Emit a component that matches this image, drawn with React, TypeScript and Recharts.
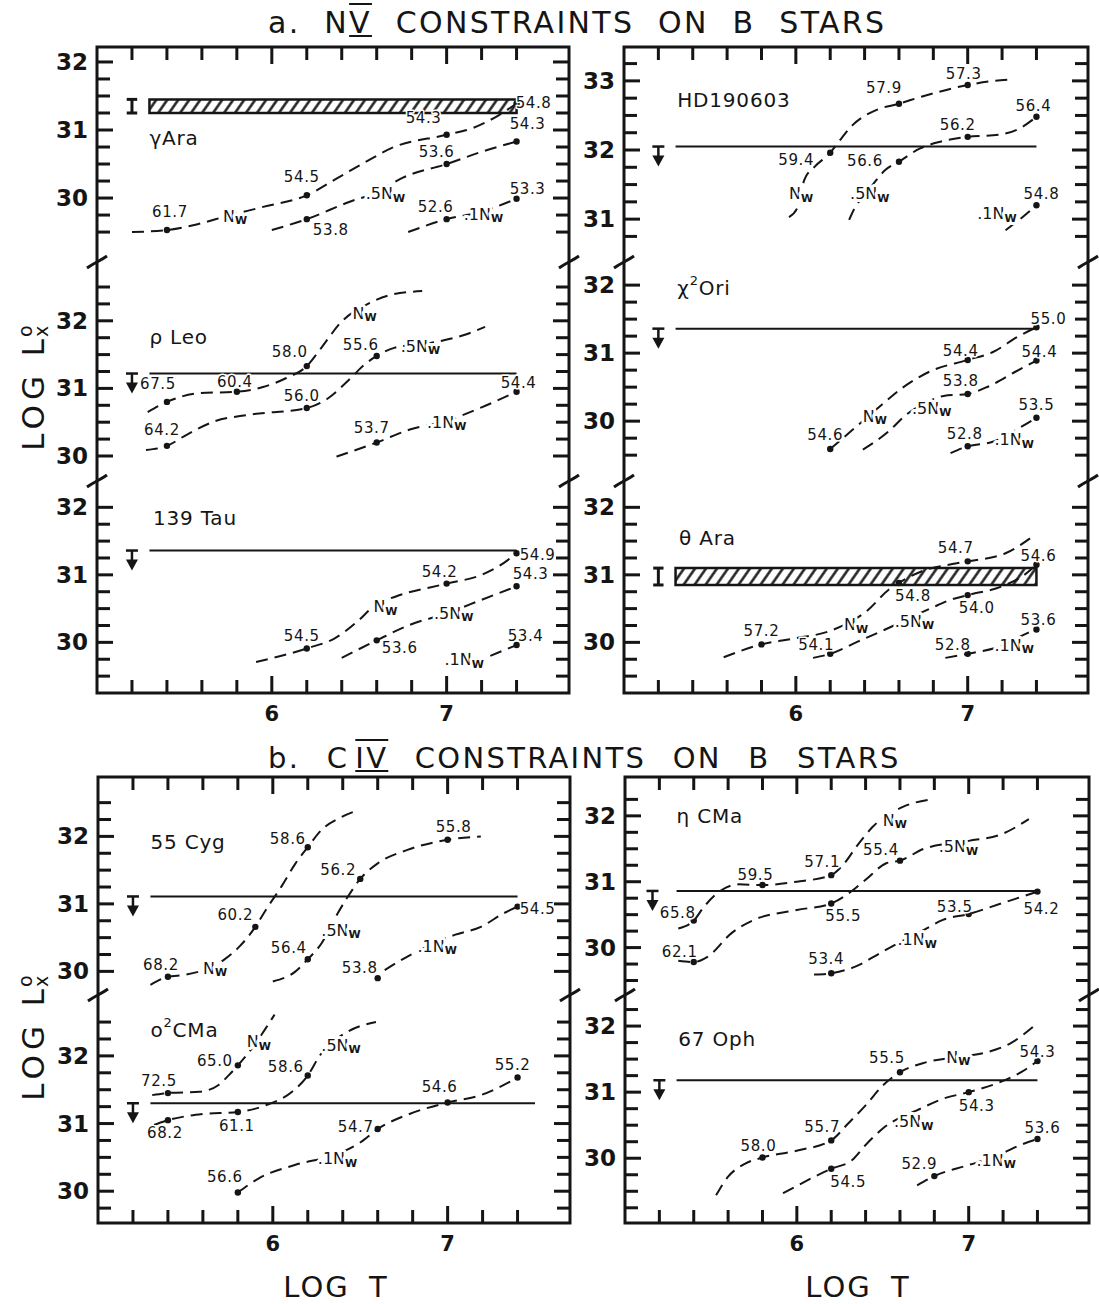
import {
  ComposedChart,
  Line,
  Scatter,
  XAxis,
  YAxis,
  ReferenceLine,
  ReferenceArea,
} from "recharts";

type Pt = [number, number];
type Mark = [number, number, string];

const INK = "#151515";
const FONT = "'DejaVu Sans', sans-serif";

const X_DOMAIN: [number, number] = [5, 7.7];
const X_TICKS = [5.2, 5.4, 5.6, 5.8, 6, 6.2, 6.4, 6.6, 6.8, 7, 7.2, 7.4];
const X_LABELS = [6, 7];
const Y_STEP = 0.25;

// ---- a. N V : gamma Ara
const gAraNw: Pt[] = [[5.2, 29.5], [5.4, 29.53], [5.55, 29.6], [5.75, 29.74], [5.95, 29.87], [6.2, 30.04], [6.38, 30.3], [6.55, 30.55], [6.69, 30.74], [7.0, 30.93], [7.15, 31.03], [7.3, 31.22], [7.4, 31.39]];
const gAraHalf: Pt[] = [[6.0, 29.53], [6.2, 29.69], [6.45, 29.95], [6.6, 30.08], [6.75, 30.3], [7.0, 30.5], [7.2, 30.68], [7.4, 30.83]];
const gAraTenth: Pt[] = [[6.78, 29.5], [7.0, 29.69], [7.2, 29.8], [7.4, 29.99]];
const gAraDots: Mark[] = [[5.4, 29.53, "61.7"], [6.2, 30.04, "54.5"], [6.2, 29.69, "53.8"], [7.0, 30.93, "54.3"], [7.0, 30.5, "53.6"], [7.0, 29.69, "52.6"], [7.4, 31.39, "54.8"], [7.4, 30.83, "54.3"], [7.4, 29.99, "53.3"]];
const gAraOff: Pt[] = [[3, -18], [-5, -18], [24, 11], [-23, -17], [-10, -12], [-11, -12], [17, 0], [11, -18], [11, -10]];
const gAraTags: Mark[] = [[5.79, 29.73, "Nw"], [6.65, 30.06, ".5Nw"], [7.21, 29.76, ".1Nw"]];
const gAraStar: Mark = [5.3, 30.88, "γAra"];
const gAraBand: Pt = [31.25, 31.45];

// ---- rho Leo
const rhoNw: Pt[] = [[5.29, 30.65], [5.4, 30.8], [5.59, 30.93], [5.8, 30.95], [5.95, 31.02], [6.08, 31.15], [6.2, 31.33], [6.28, 31.59], [6.4, 31.99], [6.55, 32.25], [6.69, 32.39], [6.86, 32.44]];
const rhoHalf: Pt[] = [[5.28, 30.09], [5.4, 30.15], [5.51, 30.31], [5.67, 30.51], [5.87, 30.61], [6.2, 30.71], [6.32, 30.85], [6.45, 31.15], [6.53, 31.35], [6.6, 31.48], [6.7, 31.6], [6.9, 31.67], [7.1, 31.79], [7.22, 31.91]];
const rhoTenth: Pt[] = [[6.37, 29.99], [6.6, 30.2], [6.8, 30.4], [7.0, 30.52], [7.2, 30.72], [7.4, 30.95]];
const rhoDots: Mark[] = [[5.4, 30.8, "67.5"], [5.8, 30.95, "60.4"], [6.2, 31.33, "58.0"], [5.4, 30.15, "64.2"], [6.2, 30.71, "56.0"], [6.6, 31.48, "55.6"], [6.6, 30.2, "53.7"], [7.4, 30.95, "54.4"]];
const rhoOff: Pt[] = [[-9, -18], [-2, -10], [-17, -14], [-5, -16], [-5, -12], [-16, -11], [-5, -14], [2, -9]];
const rhoTags: Mark[] = [[6.53, 32.11, "Nw"], [6.85, 31.62, ".5Nw"], [7.0, 30.5, ".1Nw"]];
const rhoStar: Mark = [5.3, 31.76, "ρ Leo"];
const rhoLimit = 31.22;

// ---- 139 Tau
const tauNw: Pt[] = [[5.91, 29.71], [6.2, 29.91], [6.36, 30.06], [6.49, 30.31], [6.59, 30.55], [6.71, 30.68], [7.0, 30.87], [7.2, 31.0], [7.3, 31.13], [7.4, 31.32]];
const tauHalf: Pt[] = [[6.4, 29.77], [6.6, 30.03], [6.79, 30.26], [7.0, 30.43], [7.2, 30.63], [7.4, 30.83]];
const tauTenth: Pt[] = [[7.25, 29.8], [7.4, 29.96]];
const tauDots: Mark[] = [[6.2, 29.91, "54.5"], [7.0, 30.87, "54.2"], [7.4, 31.32, "54.9"], [6.6, 30.03, "53.6"], [7.4, 30.83, "54.3"], [7.4, 29.96, "53.4"]];
const tauOff: Pt[] = [[-5, -12], [-7, -12], [21, 2], [23, 8], [14, -12], [9, -9]];
const tauTags: Mark[] = [[6.65, 30.53, "Nw"], [7.04, 30.43, ".5Nw"], [7.1, 29.74, ".1Nw"]];
const tauStar: Mark = [5.32, 31.84, "139 Tau"];
const tauLimit = 31.36;

// ---- HD 190603
const hdNw: Pt[] = [[5.96, 31.03], [6.01, 31.17], [6.03, 31.4], [6.05, 31.57], [6.11, 31.76], [6.2, 31.96], [6.25, 32.12], [6.33, 32.36], [6.47, 32.58], [6.6, 32.67], [6.73, 32.77], [7.0, 32.94], [7.12, 32.99], [7.25, 33.02]];
const hdHalf: Pt[] = [[6.31, 30.99], [6.34, 31.15], [6.41, 31.37], [6.47, 31.57], [6.52, 31.71], [6.6, 31.83], [6.72, 32.02], [6.84, 32.12], [7.0, 32.19], [7.18, 32.22], [7.3, 32.31], [7.4, 32.48]];
const hdTenth: Pt[] = [[7.22, 30.84], [7.32, 31.03], [7.4, 31.2]];
const hdDots: Mark[] = [[6.2, 31.96, "59.4"], [6.6, 32.67, "57.9"], [7.0, 32.94, "57.3"], [6.6, 31.83, "56.6"], [7.0, 32.19, "56.2"], [7.4, 32.48, "56.4"], [7.4, 31.2, "54.8"]];
const hdOff: Pt[] = [[-34, 7], [-15, -16], [-4, -11], [-34, -1], [-10, -12], [-3, -11], [5, -11]];
const hdTags: Mark[] = [[6.03, 31.37, "Nw"], [6.43, 31.37, ".5Nw"], [7.17, 31.08, ".1Nw"]];
const hdStar: Mark = [5.31, 32.72, "HD190603"];
const hdLimit = 32.05;

// ---- chi2 Ori
const oriNw: Pt[] = [[6.2, 29.59], [6.32, 29.85], [6.5, 30.24], [6.62, 30.49], [6.78, 30.73], [7.0, 30.9], [7.15, 31.02], [7.29, 31.24], [7.4, 31.38]];
const oriHalf: Pt[] = [[6.39, 29.58], [6.54, 29.85], [6.64, 30.09], [6.78, 30.3], [6.86, 30.37], [7.0, 30.4], [7.12, 30.51], [7.28, 30.73], [7.4, 30.89]];
const oriTenth: Pt[] = [[6.9, 29.53], [7.0, 29.63], [7.15, 29.7], [7.3, 29.9], [7.4, 30.05]];
const oriDots: Mark[] = [[6.2, 29.59, "54.6"], [7.0, 30.9, "54.4"], [7.4, 31.38, "55.0"], [7.0, 30.4, "53.8"], [7.4, 30.89, "54.4"], [7.0, 29.63, "52.8"], [7.4, 30.05, "53.5"]];
const oriOff: Pt[] = [[-5, -14], [-7, -9], [12, -8], [-7, -13], [3, -9], [-3, -12], [0, -13]];
const oriTags: Mark[] = [[6.46, 30.07, "Nw"], [6.79, 30.19, ".5Nw"], [7.27, 29.73, ".1Nw"]];
const oriStar: Mark = [5.31, 31.96, "χ^2Ori"];
const oriLimit = 31.36;

// ---- theta Ara
const tAraNw: Pt[] = [[5.58, 29.78], [5.8, 29.97], [6.0, 30.06], [6.2, 30.17], [6.42, 30.48], [6.54, 30.78], [6.6, 30.88], [6.73, 31.05], [6.91, 31.16], [7.0, 31.2], [7.22, 31.32], [7.39, 31.59]];
const tAraHalf: Pt[] = [[6.1, 29.77], [6.2, 29.83], [6.36, 30.01], [6.52, 30.19], [6.79, 30.51], [6.9, 30.63], [7.0, 30.7], [7.2, 30.83], [7.33, 31.0], [7.4, 31.15]];
const tAraTenth: Pt[] = [[6.87, 29.77], [7.0, 29.83], [7.2, 29.95], [7.35, 30.14], [7.4, 30.19]];
const tAraDots: Mark[] = [[5.8, 29.97, "57.2"], [6.6, 30.88, "54.8"], [7.0, 31.2, "54.7"], [6.2, 29.83, "54.1"], [7.0, 30.7, "54.0"], [7.4, 31.15, "54.6"], [7.0, 29.83, "52.8"], [7.4, 30.19, "53.6"]];
const tAraOff: Pt[] = [[0, -13], [14, 13], [-12, -13], [-14, -9], [9, 13], [2, -9], [-15, -9], [2, -10]];
const tAraTags: Mark[] = [[6.35, 30.26, "Nw"], [6.69, 30.31, ".5Nw"], [7.27, 29.96, ".1Nw"]];
const tAraStar: Mark = [5.32, 31.55, "θ Ara"];
const tAraBand: Pt = [30.85, 31.1];

// ---- b. C IV : 55 Cyg
const cygNw: Pt[] = [[5.3, 29.8], [5.4, 29.92], [5.5, 29.95], [5.72, 30.17], [5.81, 30.37], [5.9, 30.66], [5.96, 30.91], [6.05, 31.26], [6.13, 31.6], [6.2, 31.84], [6.28, 32.1], [6.38, 32.27], [6.49, 32.39]];
const cygHalf: Pt[] = [[6.0, 29.85], [6.13, 30.0], [6.2, 30.18], [6.28, 30.42], [6.36, 30.81], [6.43, 31.11], [6.5, 31.37], [6.6, 31.6], [6.77, 31.8], [7.0, 31.95], [7.19, 32.0]];
const cygTenth: Pt[] = [[6.64, 30.02], [6.77, 30.22], [7.04, 30.54], [7.19, 30.66], [7.32, 30.86], [7.4, 30.96]];
const cygDots: Mark[] = [[5.4, 29.92, "68.2"], [5.9, 30.66, "60.2"], [6.2, 31.84, "58.6"], [6.2, 30.18, "56.4"], [6.5, 31.37, "56.2"], [7.0, 31.95, "55.8"], [6.6, 29.9, "53.8"], [7.4, 30.96, "54.5"]];
const cygOff: Pt[] = [[-7, -12], [-20, -12], [-20, -8], [-19, -11], [-22, -9], [6, -13], [-18, -10], [20, 2]];
const cygTags: Mark[] = [[5.67, 30.05, "Nw"], [6.39, 30.61, ".5Nw"], [6.94, 30.37, ".1Nw"]];
const cygStar: Mark = [5.3, 31.92, "55 Cyg"];
const cygLimit = 31.11;

// ---- o2 CMa
const cmaNw: Pt[] = [[5.31, 31.42], [5.4, 31.45], [5.58, 31.47], [5.69, 31.57], [5.75, 31.72], [5.8, 31.86], [5.88, 32.11], [5.96, 32.41], [6.01, 32.61]];
const cmaHalf: Pt[] = [[5.32, 30.98], [5.4, 31.05], [5.6, 31.14], [5.8, 31.17], [5.96, 31.27], [6.11, 31.47], [6.2, 31.71], [6.27, 32.01], [6.43, 32.36], [6.59, 32.5]];
const cmaTenth: Pt[] = [[5.8, 29.98], [5.92, 30.19], [6.13, 30.39], [6.37, 30.55], [6.5, 30.72], [6.6, 30.92], [6.77, 31.13], [7.0, 31.31], [7.19, 31.42], [7.4, 31.68]];
const cmaDots: Mark[] = [[5.4, 31.45, "72.5"], [5.8, 31.86, "65.0"], [5.4, 31.05, "68.2"], [5.8, 31.17, "61.1"], [6.2, 31.71, "58.6"], [5.8, 29.98, "56.6"], [6.6, 30.92, "54.7"], [7.0, 31.31, "54.6"], [7.4, 31.68, "55.2"]];
const cmaOff: Pt[] = [[-9, -12], [-23, -4], [-3, 13], [-1, 14], [-22, -9], [-13, -16], [-22, -2], [-8, -16], [-5, -13]];
const cmaTags: Mark[] = [[5.92, 32.21, "Nw"], [6.39, 32.16, ".5Nw"], [6.37, 30.48, ".1Nw"]];
const cmaStar: Mark = [5.3, 32.38, "o^2CMa"];
const cmaLimit = 31.3;

// ---- eta CMa
const etaNw: Pt[] = [[5.31, 30.29], [5.4, 30.41], [5.46, 30.62], [5.56, 30.87], [5.66, 30.96], [5.8, 30.95], [6.0, 31.0], [6.2, 31.1], [6.26, 31.23], [6.36, 31.58], [6.44, 31.83], [6.62, 32.14], [6.78, 32.25]];
const etaHalf: Pt[] = [[5.31, 29.8], [5.4, 29.78], [5.48, 29.86], [5.62, 30.22], [5.75, 30.42], [6.0, 30.57], [6.2, 30.67], [6.3, 30.82], [6.4, 31.03], [6.52, 31.28], [6.6, 31.32], [6.74, 31.5], [7.0, 31.62], [7.19, 31.72], [7.35, 31.95]];
const etaTenth: Pt[] = [[6.1, 29.59], [6.2, 29.61], [6.34, 29.71], [6.5, 29.94], [6.74, 30.27], [6.85, 30.42], [7.0, 30.51], [7.19, 30.67], [7.4, 30.85]];
const etaDots: Mark[] = [[5.4, 30.41, "65.8"], [5.8, 30.95, "59.5"], [6.2, 31.1, "57.1"], [5.4, 29.78, "62.1"], [6.2, 30.67, "55.5"], [6.6, 31.32, "55.4"], [6.2, 29.61, "53.4"], [7.0, 30.51, "53.5"], [7.4, 30.85, "54.2"]];
const etaOff: Pt[] = [[-16, -8], [-7, -10], [-9, -13], [-14, -10], [12, 13], [-19, -11], [-5, -14], [-14, -7], [4, 17]];
const etaTags: Mark[] = [[6.57, 31.93, "Nw"], [6.94, 31.53, ".5Nw"], [6.7, 30.12, ".1Nw"]];
const etaStar: Mark = [5.3, 32.0, "η CMa"];
const etaLimit = 30.86;

// ---- 67 Oph
const ophNw: Pt[] = [[5.53, 29.44], [5.6, 29.72], [5.7, 29.92], [5.8, 30.01], [6.01, 30.12], [6.2, 30.27], [6.3, 30.53], [6.4, 30.8], [6.5, 31.1], [6.6, 31.3], [6.75, 31.45], [6.94, 31.53], [7.1, 31.6], [7.25, 31.75], [7.38, 32.0]];
const ophHalf: Pt[] = [[5.92, 29.47], [6.2, 29.84], [6.32, 29.97], [6.4, 30.2], [6.5, 30.45], [6.72, 30.75], [6.85, 30.9], [7.0, 31.0], [7.19, 31.16], [7.31, 31.31], [7.4, 31.47]];
const ophTenth: Pt[] = [[6.7, 29.59], [6.8, 29.73], [6.99, 29.89], [7.15, 30.02], [7.3, 30.2], [7.4, 30.29]];
const ophDots: Mark[] = [[5.8, 30.01, "58.0"], [6.2, 30.27, "55.7"], [6.6, 31.3, "55.5"], [6.2, 29.84, "54.5"], [7.0, 31.0, "54.3"], [7.4, 31.47, "54.3"], [6.8, 29.73, "52.9"], [7.4, 30.29, "53.6"]];
const ophOff: Pt[] = [[-4, -12], [-9, -13], [-13, -14], [17, 13], [8, 14], [0, -9], [-15, -12], [5, -11]];
const ophTags: Mark[] = [[6.94, 31.53, "Nw"], [6.68, 30.55, ".5Nw"], [7.16, 29.97, ".1Nw"]];
const ophStar: Mark = [5.31, 31.81, "67 Oph"];
const ophLimit = 31.18;

// panel frames (page pixels)
const PANELS = [
  { x: 97, w: 472, top: 47, bottom: 693, cuts: [262, 481] },
  { x: 624, w: 464, top: 47, bottom: 693, cuts: [262, 481] },
  { x: 98, w: 472, top: 777, bottom: 1223, cuts: [995] },
  { x: 625, w: 464, top: 777, bottom: 1223, cuts: [995] },
];

type StripDef = {
  panel: number;
  row: number;
  y: [number, number];
  curves: Pt[][];
  dots: Mark[];
  off: Pt[];
  tags: Mark[];
  star: Mark;
  limit?: number;
  limitTo?: number;
  arrowAt?: number;
  band?: Pt;
};

const STRIPS: StripDef[] = [
  { panel: 0, row: 0, y: [29.06, 32.22], curves: [gAraNw, gAraHalf, gAraTenth], dots: gAraDots, off: gAraOff, tags: gAraTags, star: gAraStar, band: gAraBand },
  { panel: 0, row: 1, y: [29.63, 32.87], curves: [rhoNw, rhoHalf, rhoTenth], dots: rhoDots, off: rhoOff, tags: rhoTags, star: rhoStar, limit: rhoLimit },
  { panel: 0, row: 2, y: [29.25, 32.39], curves: [tauNw, tauHalf, tauTenth], dots: tauDots, off: tauOff, tags: tauTags, star: tauStar, limit: tauLimit },
  { panel: 1, row: 0, y: [30.38, 33.49], curves: [hdNw, hdHalf, hdTenth], dots: hdDots, off: hdOff, tags: hdTags, star: hdStar, limit: hdLimit },
  { panel: 1, row: 1, y: [29.12, 32.34], curves: [oriNw, oriHalf, oriTenth], dots: oriDots, off: oriOff, tags: oriTags, star: oriStar, limit: oriLimit },
  { panel: 1, row: 2, y: [29.25, 32.39], curves: [tAraNw, tAraHalf, tAraTenth], dots: tAraDots, off: tAraOff, tags: tAraTags, star: tAraStar, band: tAraBand },
  { panel: 2, row: 0, y: [29.65, 32.88], curves: [cygNw, cygHalf, cygTenth], dots: cygDots, off: cygOff, tags: cygTags, star: cygStar, limit: cygLimit },
  { panel: 2, row: 1, y: [29.53, 32.9], curves: [cmaNw, cmaHalf, cmaTenth], dots: cmaDots, off: cmaOff, tags: cmaTags, star: cmaStar, limit: cmaLimit, limitTo: 7.5 },
  { panel: 3, row: 0, y: [29.28, 32.59], curves: [etaNw, etaHalf, etaTenth], dots: etaDots, off: etaOff, tags: etaTags, star: etaStar, limit: etaLimit, arrowAt: 5.16 },
  { panel: 3, row: 1, y: [29.02, 32.47], curves: [ophNw, ophHalf, ophTenth], dots: ophDots, off: ophOff, tags: ophTags, star: ophStar, limit: ophLimit },
];

const YW = 60; // room for y tick labels
const TA = 20; // top axis band
const BA = 44; // bottom axis band
const RM = 8;

function stripTicks([lo, hi]: [number, number]) {
  const out: number[] = [];
  for (let v = Math.ceil(lo / Y_STEP) * Y_STEP; v <= hi; v += Y_STEP) {
    if (v - lo >= 0.2 && hi - v >= 0.2) out.push(Math.round(v * 100) / 100);
  }
  return out;
}

const halo = {
  stroke: "#fff",
  paintOrder: "stroke" as const,
  strokeLinejoin: "round" as const,
};

function Strip({ s }: { s: StripDef }) {
  const pn = PANELS[s.panel];
  const top = s.row === 0 ? pn.top : pn.cuts[s.row - 1];
  const bottom = s.row < pn.cuts.length ? pn.cuts[s.row] : pn.bottom;
  const edge = s.row === 0 ? "top" : s.row === pn.cuts.length ? "bottom" : "none";
  const topPad = edge === "top" ? TA : 0;
  const botPad = edge === "bottom" ? BA : 0;
  const h = bottom - top;
  const plotTop = topPad;
  const plotBottom = topPad + h;
  const right = YW + pn.w;

  const dotRows = s.dots.map(([x, y, label], i) => ({
    x,
    y,
    label,
    dx: s.off[i][0],
    dy: s.off[i][1],
  }));
  const tagRows = s.tags.map(([x, y, text]) => ({ x, y, text }));
  const starRows = [{ x: s.star[0], y: s.star[1], text: s.star[2] }];
  const arrowRows =
    s.limit !== undefined ? [{ x: s.arrowAt ?? 5.2, y: s.limit }] : [];

  const xTick = (p: any) => {
    const v = p.payload.value;
    const major = X_LABELS.includes(v);
    const len = major ? 17 : 13;
    if (edge === "top") {
      return (
        <line x1={p.x} x2={p.x} y1={plotTop} y2={plotTop + len} stroke={INK} strokeWidth={3} />
      );
    }
    return (
      <g>
        <line x1={p.x} x2={p.x} y1={plotBottom - len} y2={plotBottom} stroke={INK} strokeWidth={3} />
        {major && (
          <text
            x={p.x}
            y={plotBottom + 21}
            textAnchor="middle"
            dominantBaseline="central"
            fontFamily={FONT}
            fontWeight="bold"
            fontSize={21}
            fill={INK}
          >
            {v}
          </text>
        )}
      </g>
    );
  };

  const yTick = (p: any) => {
    const v = p.payload.value;
    const major = Number.isInteger(v);
    const len = major ? 16 : 13;
    return (
      <g>
        <line x1={YW} x2={YW + len} y1={p.y} y2={p.y} stroke={INK} strokeWidth={3} />
        <line x1={right - len} x2={right} y1={p.y} y2={p.y} stroke={INK} strokeWidth={3} />
        {major && (
          <text
            x={YW - 9}
            y={p.y}
            textAnchor="end"
            dominantBaseline="central"
            fontFamily={FONT}
            fontWeight="bold"
            fontSize={23}
            fill={INK}
          >
            {v}
          </text>
        )}
      </g>
    );
  };

  return (
    <div style={{ position: "absolute", left: pn.x - YW, top: top - topPad }}>
      <ComposedChart
        width={YW + pn.w + RM}
        height={h + topPad + botPad}
        margin={{ top: 0, right: RM, bottom: 0, left: 0 }}
      >
        <XAxis
          type="number"
          dataKey="x"
          domain={X_DOMAIN}
          ticks={X_TICKS}
          interval={0}
          hide={edge === "none"}
          orientation={edge === "top" ? "top" : "bottom"}
          height={edge === "top" ? TA : BA}
          axisLine={false}
          tickLine={false}
          tick={xTick}
        />
        <YAxis
          type="number"
          dataKey="y"
          domain={s.y}
          ticks={stripTicks(s.y)}
          interval={0}
          width={YW}
          axisLine={false}
          tickLine={false}
          tick={yTick}
        />

        {s.band && (
          <ReferenceArea
            x1={5.3}
            x2={7.4}
            y1={s.band[0]}
            y2={s.band[1]}
            fill="url(#hatch)"
            fillOpacity={1}
            stroke={INK}
            strokeWidth={2.5}
          />
        )}
        {s.band && (
          <ReferenceLine segment={[{ x: 5.2, y: s.band[0] }, { x: 5.2, y: s.band[1] }]} stroke={INK} strokeWidth={3} />
        )}
        {s.band && (
          <ReferenceLine segment={[{ x: 5.17, y: s.band[0] }, { x: 5.23, y: s.band[0] }]} stroke={INK} strokeWidth={3} />
        )}
        {s.band && (
          <ReferenceLine segment={[{ x: 5.17, y: s.band[1] }, { x: 5.23, y: s.band[1] }]} stroke={INK} strokeWidth={3} />
        )}

        {s.limit !== undefined && (
          <ReferenceLine
            segment={[
              { x: 5.3, y: s.limit },
              { x: s.limitTo ?? 7.4, y: s.limit },
            ]}
            stroke={INK}
            strokeWidth={2}
          />
        )}

        {s.curves.map((c, i) => (
          <Line
            key={i}
            data={c.map(([x, y]) => ({ x, y }))}
            dataKey="y"
            type="monotone"
            stroke={INK}
            strokeWidth={2}
            strokeDasharray="12 7"
            dot={false}
            activeDot={false}
            isAnimationActive={false}
          />
        ))}

        <Scatter
          data={arrowRows}
          isAnimationActive={false}
          shape={(p: any) => (
            <g>
              <line x1={p.cx - 6} x2={p.cx + 6} y1={p.cy} y2={p.cy} stroke={INK} strokeWidth={2.5} />
              <line x1={p.cx} x2={p.cx} y1={p.cy} y2={p.cy + 12} stroke={INK} strokeWidth={2.5} />
              <polygon
                points={`${p.cx - 6},${p.cy + 9} ${p.cx + 6},${p.cy + 9} ${p.cx},${p.cy + 20}`}
                fill={INK}
              />
            </g>
          )}
        />

        <Scatter
          data={dotRows}
          isAnimationActive={false}
          shape={(p: any) => (
            <g>
              <circle cx={p.cx} cy={p.cy} r={3.2} fill={INK} />
              <text
                x={p.cx + p.payload.dx}
                y={p.cy + p.payload.dy}
                textAnchor="middle"
                dominantBaseline="central"
                fontFamily={FONT}
                fontSize={15}
                letterSpacing={0.6}
                fill={INK}
                strokeWidth={3}
                {...halo}
              >
                {p.payload.label}
              </text>
            </g>
          )}
        />

        <Scatter
          data={tagRows}
          isAnimationActive={false}
          shape={(p: any) => (
            <text
              x={p.cx}
              y={p.cy}
              textAnchor="middle"
              dominantBaseline="central"
              fontFamily={FONT}
              fontSize={16}
              fill={INK}
              strokeWidth={6}
              {...halo}
            >
              {p.payload.text.slice(0, -1)}
              <tspan dy={4} fontSize={11} fontWeight="bold">
                W
              </tspan>
            </text>
          )}
        />

        <Scatter
          data={starRows}
          isAnimationActive={false}
          shape={(p: any) => {
            const [a, b] = (p.payload.text as string).split("^");
            return (
              <text
                x={p.cx}
                y={p.cy}
                dominantBaseline="central"
                fontFamily={FONT}
                fontSize={20}
                letterSpacing={0.8}
                fill={INK}
              >
                {a}
                {b && (
                  <>
                    <tspan dy={-8} fontSize={13}>
                      {b[0]}
                    </tspan>
                    <tspan dy={8}>{b.slice(1)}</tspan>
                  </>
                )}
              </text>
            );
          }}
        />
      </ComposedChart>
    </div>
  );
}

function Frames() {
  return (
    <svg
      width={1099}
      height={1304}
      style={{ position: "absolute", left: 0, top: 0, pointerEvents: "none" }}
    >
      {PANELS.map((p, i) => (
        <g key={i}>
          <rect
            x={p.x}
            y={p.top}
            width={p.w}
            height={p.bottom - p.top}
            fill="none"
            stroke={INK}
            strokeWidth={3}
          />
          {p.cuts.map((c) =>
            [p.x, p.x + p.w].map((x) => (
              <path
                key={`${c}-${x}`}
                d={`M ${x - 10} ${c + 6} C ${x - 3} ${c + 1}, ${x + 3} ${c - 1}, ${x + 10} ${c - 6}`}
                fill="none"
                stroke={INK}
                strokeWidth={3}
              />
            ))
          )}
        </g>
      ))}
    </svg>
  );
}

const bars = {
  textDecoration: "underline overline",
  textDecorationThickness: 2,
  textUnderlineOffset: 2,
};

function Title({
  top,
  lead,
  numeral,
  gap,
  spacing,
  size,
}: {
  top: number;
  lead: string;
  numeral: string;
  gap: number;
  spacing: number;
  size: number;
}) {
  return (
    <div
      style={{
        position: "absolute",
        left: 268,
        top,
        fontFamily: FONT,
        fontSize: size,
        lineHeight: "34px",
        letterSpacing: 2.3,
        wordSpacing: spacing,
        whiteSpace: "nowrap",
        color: INK,
      }}
    >
      {lead}
      <span style={{ ...bars, marginLeft: gap }}>{numeral}</span> CONSTRAINTS ON B STARS
    </div>
  );
}

function YTitle({ cy }: { cy: number }) {
  return (
    <div
      style={{
        position: "absolute",
        left: 33,
        top: cy,
        transform: "translate(-50%, -50%) rotate(-90deg)",
        fontFamily: FONT,
        fontSize: 31,
        letterSpacing: 5,
        whiteSpace: "nowrap",
        color: INK,
        display: "flex",
        alignItems: "center",
      }}
    >
      LOG L
      <span
        style={{
          display: "inline-flex",
          flexDirection: "column",
          fontSize: 19,
          lineHeight: "16px",
          letterSpacing: 0,
          marginLeft: -3,
        }}
      >
        <span>o</span>
        <span>x</span>
      </span>
    </div>
  );
}

function XTitle({ cx }: { cx: number }) {
  return (
    <div
      style={{
        position: "absolute",
        left: cx,
        top: 1270,
        transform: "translateX(-50%)",
        fontFamily: FONT,
        fontSize: 29,
        lineHeight: "34px",
        letterSpacing: 2,
        wordSpacing: 8,
        whiteSpace: "nowrap",
        color: INK,
      }}
    >
      LOG T
    </div>
  );
}

export default function App() {
  return (
    <div style={{ position: "relative", width: 1099, height: 1304, background: "#fff" }}>
      <style>{`body{margin:0} .recharts-surface{overflow:visible}`}</style>
      <svg width={0} height={0} style={{ position: "absolute" }}>
        <defs>
          <pattern
            id="hatch"
            patternUnits="userSpaceOnUse"
            width={9}
            height={9}
            patternTransform="rotate(35)"
          >
            <rect width={9} height={9} fill="#fff" />
            <line x1={4.5} y1={-1} x2={4.5} y2={10} stroke={INK} strokeWidth={2.4} />
          </pattern>
        </defs>
      </svg>

      <Title top={6} lead="a. N" numeral="V" gap={0} spacing={12} size={30} />
      <Title top={741} lead="b. C" numeral="IV" gap={6} spacing={15} size={29} />

      {STRIPS.map((s, i) => (
        <Strip key={i} s={s} />
      ))}

      <Frames />

      <YTitle cy={388} />
      <YTitle cy={1038} />
      <XTitle cx={336} />
      <XTitle cx={858} />
    </div>
  );
}
